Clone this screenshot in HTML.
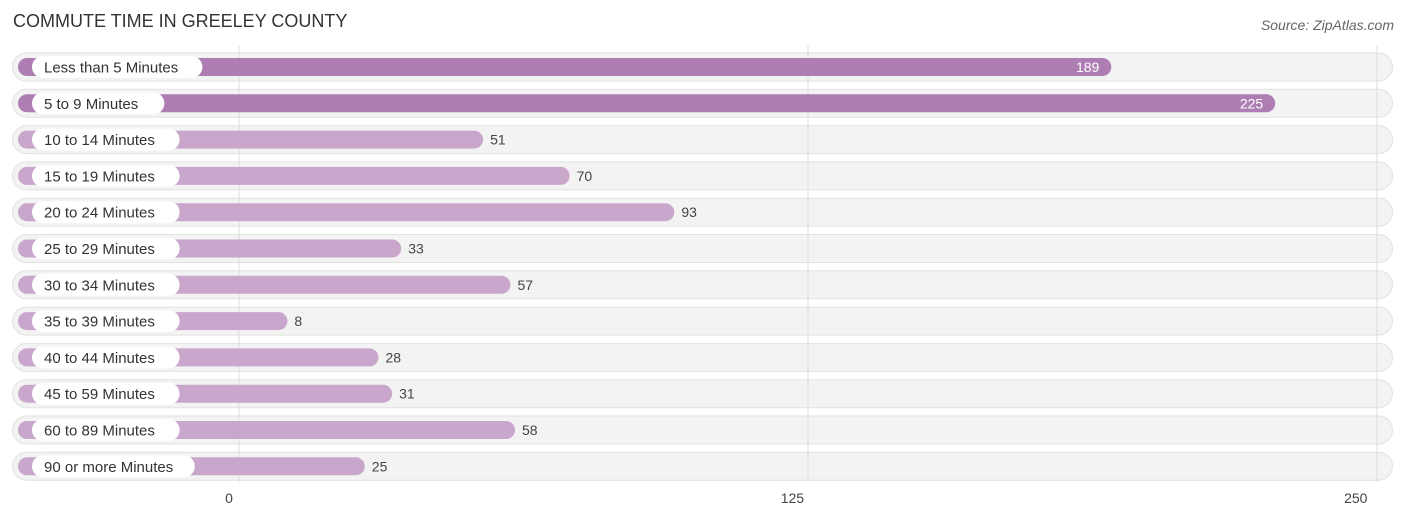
<!DOCTYPE html>
<html><head><meta charset="utf-8">
<style>
body{margin:0;background:#fff;font-family:"Liberation Sans",sans-serif;}
svg{display:block}
</style></head>
<body>
<svg id="chart" width="1406" height="522" xmlns="http://www.w3.org/2000/svg">
<text x="13" y="27" font-size="18" fill="#333" font-family="Liberation Sans, sans-serif">COMMUTE TIME IN GREELEY COUNTY</text>
<text x="1394" y="30" font-size="14" fill="#666" font-style="italic" text-anchor="end" font-family="Liberation Sans, sans-serif">Source: ZipAtlas.com</text>
<g id="bgs"></g><g id="grid"></g><g id="rows"></g><g id="ticks"></g>
</svg>
<script>
const categories=["Less than 5 Minutes","5 to 9 Minutes","10 to 14 Minutes","15 to 19 Minutes","20 to 24 Minutes","25 to 29 Minutes","30 to 34 Minutes","35 to 39 Minutes","40 to 44 Minutes","45 to 59 Minutes","60 to 89 Minutes","90 or more Minutes"];
const values=[189,225,51,70,93,33,57,8,28,31,58,25];
const tickValues=[0,125,250];
const tickLabels=["0","125","250"];
const NS="http://www.w3.org/2000/svg";
function x(v){return 239+v*(1377-239)/250;}
function rowY(i){return 67+i*36.3;}
function mk(tag,attrs,parent){const e=document.createElementNS(NS,tag);for(const k in attrs)e.setAttribute(k,attrs[k]);parent.appendChild(e);return e;}
const bgs=document.getElementById('bgs'),grid=document.getElementById('grid'),rows=document.getElementById('rows'),ticks=document.getElementById('ticks');
tickValues.forEach((t,i)=>{
  const l=mk('line',{x1:x(t),x2:x(t),y1:45,y2:482,stroke:'#dcdcdc','stroke-width':1},grid);
  
  
  const tx=mk('text',{x:x(t)-10-t*0.045,y:503,'font-size':14,fill:'#444','text-anchor':'middle'},ticks);
  tx.textContent=tickLabels[i];
  
  
});
categories.forEach((c,i)=>{
  const cy=rowY(i);
  const bg=mk('rect',{x:12.5,y:cy-14,width:1380,height:28,rx:14,fill:'#f3f3f3',stroke:'#e2e2e2'},bgs);
  
  
  const g=mk('g',{},rows);
  
  
  const strong=values[i]>150;
  const end=x(values[i])+12;
  const bar=mk('rect',{x:18,y:cy-9,width:end-18,height:18,rx:9,fill:strong?'#ad7db3':'#c9a6cc'},g);
  
  
  const w=c.length*7.6+26;
  const lp=mk('rect',{x:32,y:cy-11,width:w,height:22,rx:11,fill:'#fff'},g);
  
  
  const lt=mk('text',{x:44,y:cy+5.5,'font-size':15,fill:'#333'},g);
  lt.textContent=c;
  
  
  const vt=mk('text',{x:strong?end-12:end+7,y:cy+5,'font-size':14,fill:strong?'#fff':'#444','text-anchor':strong?'end':'start'},g);
  vt.textContent=values[i];
  
  
});
</script>
</body></html>
